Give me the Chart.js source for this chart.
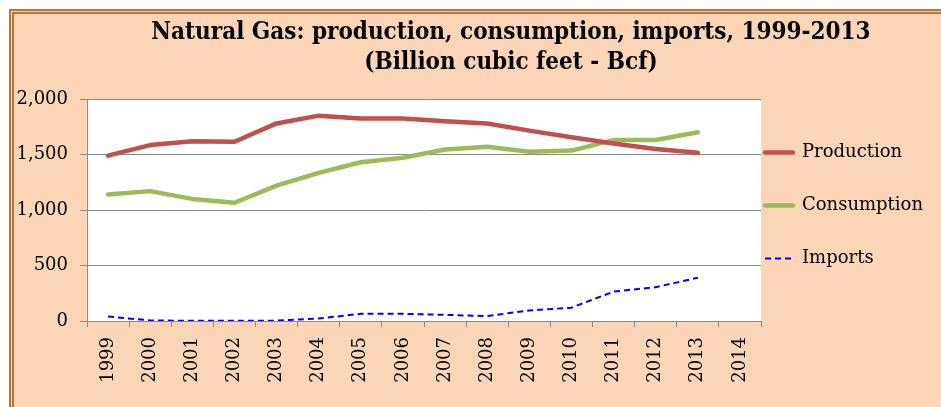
<!DOCTYPE html>
<html><head><meta charset="utf-8">
<script src="https://cdn.jsdelivr.net/npm/chart.js@4"></script>
<style>
html,body{margin:0;padding:0;background:#fff;width:941px;height:407px;overflow:hidden}
#frame{position:absolute;left:9px;top:9px;width:1000px;height:500px;background:#FBD5B5;border-left:5px double #B8763C;border-top:5px double #B8763C;}
#wrap{position:absolute;left:0;top:0;width:941px;height:407px}
</style></head><body>
<div id="frame"></div>
<div id="wrap"><canvas id="c" width="941" height="407"></canvas></div>
<script>
const titleLines = ['Natural Gas: production, consumption, imports, 1999-2013', '(Billion cubic feet - Bcf)'];
const years = ['1999','2000','2001','2002','2003','2004','2005','2006','2007','2008','2009','2010','2011','2012','2013','2014'];
const production = [1490,1585,1620,1615,1780,1850,1825,1825,1800,1780,1715,1655,1600,1550,1515,null];
const consumption = [1140,1170,1100,1065,1220,1335,1430,1470,1545,1570,1525,1535,1630,1630,1700,null];
const imports = [40,5,2,2,3,22,65,65,55,45,95,120,265,305,390,null];
const yTicks = [0,500,1000,1500,2000];

const bgPlugin = {
  id: 'plotBg',
  beforeDraw(chart) {
    const a = chart.chartArea, ctx = chart.ctx;
    ctx.save(); ctx.fillStyle = '#fff';
    ctx.fillRect(a.left, a.top, a.right - a.left, a.bottom - a.top);
    ctx.restore();
  }
};
const layoutTweak = {
  id: 'layoutTweak',
  afterLayout(chart) {
    const l = chart.legend;
    if (l) { l.left -= 31; l.top += 2; l.bottom += 2; }
    const y = chart.scales.y;
    if (y) { y.left = 0; }
  }
};

Chart.defaults.font.family = "'DejaVu Serif', serif";
Chart.defaults.color = '#000';

new Chart(document.getElementById('c'), {
  type: 'line',
  data: {
    labels: years,
    datasets: [
      {label: 'Production', data: production, borderColor: '#C0504D', backgroundColor: '#C0504D', borderWidth: 4.5, pointRadius: 0, tension: 0, borderCapStyle: 'round', borderJoinStyle: 'round'},
      {label: 'Consumption', data: consumption, borderColor: '#9BBB59', backgroundColor: '#9BBB59', borderWidth: 4.5, pointRadius: 0, tension: 0, borderCapStyle: 'round', borderJoinStyle: 'round'},
      {label: 'Imports', data: imports, borderColor: '#0000FF', backgroundColor: '#0000FF', borderWidth: 2, borderDash: [6, 4], pointRadius: 0, tension: 0}
    ]
  },
  options: {
    responsive: false,
    animation: false,
    layout: {padding: {left: 81, right: 0, top: 0, bottom: 0}},
    plugins: {
      title: {display: true, text: titleLines, color: '#000',
        font: {family: "'DejaVu Serif Condensed', 'Liberation Serif', serif", size: 24, weight: 'bold', lineHeight: 1.25},
        padding: {top: 18, bottom: 21}},
      legend: {position: 'right', maxWidth: 180,
        labels: {usePointStyle: true, pointStyle: 'line', pointStyleWidth: 28, boxWidth: 28, boxHeight: 10, padding: 35, font: {size: 18}, color: '#000',
          generateLabels(chart) {
            const items = Chart.defaults.plugins.legend.labels.generateLabels(chart);
            items.forEach(it => {
              const ds = chart.data.datasets[it.datasetIndex];
              it.lineDash = ds.borderDash || [];
              it.lineWidth = ds.borderWidth;
              it.strokeStyle = ds.borderColor;
              it.lineCap = ds.borderCapStyle || 'butt';
            });
            return items;
          }}},
      tooltip: {enabled: false}
    },
    scales: {
      x: {
        offset: true,
        grid: {offset: true, drawOnChartArea: false, drawTicks: true, tickLength: 6, color: '#8c8c8c'},
        border: {color: '#8c8c8c'},
        ticks: {minRotation: 90, maxRotation: 90, padding: 10, autoSkip: false, font: {size: 18}, color: '#000'},
        afterFit(s) { s.height = 86; }
      },
      y: {
        min: 0, max: 2000,
        afterBuildTicks(s) { s.ticks = yTicks.map(v => ({value: v})); },
        grid: {color: '#8c8c8c', tickLength: 7},
        border: {color: '#8c8c8c'},
        ticks: {padding: 12, font: {size: 18}, color: '#000'},
        afterFit(s) { s.width = 6; }
      }
    }
  },
  plugins: [bgPlugin, layoutTweak]
});
</script>
</body></html>
